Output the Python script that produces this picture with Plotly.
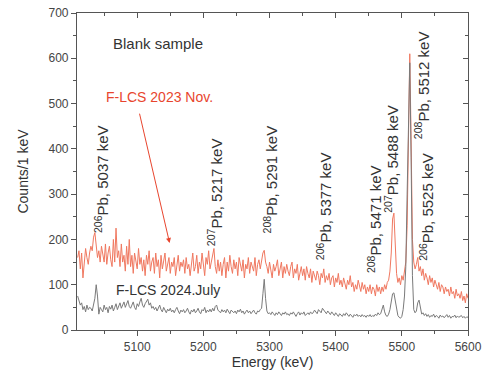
import plotly.graph_objects as go

# Energy bins (keV), 2 keV steps
energy = list(range(5010, 5601, 2))

# F-LCS 2023 Nov. (counts / 1 keV)
counts_2023 = [
    160, 175, 135, 170, 115, 150, 180, 160, 145, 170,
    185, 175, 205, 215, 190, 160, 175, 150, 185, 165,
    150, 190, 145, 170, 185, 155, 140, 200, 150, 225,
    160, 175, 140, 190, 150, 165, 130, 185, 145, 200,
    140, 165, 125, 170, 150, 135, 180, 145, 160, 130,
    155, 120, 165, 145, 175, 130, 150, 160, 125, 170,
    140, 155, 115, 165, 135, 150, 170, 130, 145, 160,
    125, 150, 140, 160, 120, 145, 165, 130, 150, 140,
    155, 125, 160, 135, 145, 120, 150, 170, 130, 140,
    165, 125, 150, 135, 170, 140, 120, 160, 145, 175,
    135, 150, 165, 180, 140, 125, 155, 130, 150, 120,
    145, 160, 115, 150, 130, 165, 140, 125, 155, 135,
    150, 120, 160, 140, 130, 155, 115, 145, 135, 160,
    125, 150, 140, 130, 160, 120, 145, 155, 135, 150,
    170, 176, 150, 140, 125, 150, 135, 115, 145, 130,
    140, 155, 120, 135, 150, 115, 140, 125, 145, 130,
    120, 140, 150, 115, 135, 125, 145, 110, 130, 140,
    120, 135, 110, 140, 125, 115, 135, 105, 130, 120,
    110, 130, 120, 100, 125, 115, 135, 105, 120, 110,
    125, 100, 115, 120, 95, 115, 105, 125, 100, 110,
    95, 115, 105, 90, 110, 100, 120, 95, 105, 85,
    100, 90, 110, 95, 85, 105, 90, 100, 80, 95,
    85, 100, 80, 95, 90, 75, 100, 85, 95, 80,
    95, 85, 100, 90, 105, 110, 130, 170, 245, 258,
    190, 125, 105, 115, 100, 120, 110, 135, 150, 230,
    480, 610, 420, 200, 150, 135, 145, 160, 130, 140,
    120, 135, 110, 125, 115, 100, 120, 105, 115, 95,
    110, 100, 90, 105, 85, 100, 95, 80, 95, 85,
    90, 75, 95, 80, 85, 70, 90, 75, 80, 70,
    85, 65, 75, 60, 80, 70,
]

# F-LCS 2024.July (counts / 1 keV)
counts_2024 = [
    75, 65, 55, 60, 45, 52, 40, 55, 45, 50,
    48, 42, 58, 70, 100, 75, 35, 50, 45, 40,
    55, 45, 50, 38, 52, 46, 55, 42, 50, 58,
    45, 52, 60, 48, 55, 62, 50, 58, 65, 52,
    48, 55, 62, 50, 45, 58, 52, 62, 70, 55,
    50, 58, 62, 68, 55, 60, 48, 52, 45, 50,
    42, 48, 55, 45, 40, 50, 44, 38, 46, 42,
    48, 40, 44, 38, 45, 50, 42, 36, 44, 40,
    45, 38, 42, 48, 40, 35, 44, 40, 46, 38,
    42, 48, 40, 36, 45, 42, 50, 38, 44, 40,
    46, 40, 48, 42, 52, 55, 44, 40, 38, 45,
    40, 44, 38, 46, 42, 36, 44, 40, 38, 42,
    36, 44, 40, 46, 38, 42, 35, 40, 44, 38,
    42, 36, 40, 44, 38, 35, 42, 40, 45, 48,
    80, 112, 70, 42, 36, 38, 34, 40, 36, 32,
    38, 34, 40, 36, 32, 38, 35, 40, 34, 36,
    32, 38, 35, 40, 34, 30, 36, 40, 33, 38,
    35, 40, 32, 36, 38, 34, 40, 36, 38, 44,
    40, 36, 45, 42, 38, 48, 44, 40, 36, 42,
    38, 34, 40, 36, 32, 38, 35, 30, 36, 33,
    30, 36, 32, 38, 34, 30, 35, 32, 28, 34,
    31, 35, 30, 33, 29, 34, 30, 32, 28, 33,
    30, 34, 29, 32, 30, 35, 32, 38, 34, 36,
    48, 55, 40, 32, 30, 35, 45, 60, 80, 82,
    65, 45, 32, 28, 26, 30, 45, 75, 140, 300,
    480, 590, 380, 120, 45, 38, 42, 60, 66, 45,
    35, 38, 32, 36, 30, 34, 28, 32, 30, 35,
    28, 32, 30, 26, 33, 29, 31, 27, 30, 34,
    28, 32, 26, 30, 29, 33, 27, 31, 28, 30,
    32, 27, 30, 26, 29, 28,
]

# Peak labels
peak_labels = [
    "<sup>206</sup>Pb, 5037 keV", "<sup>207</sup>Pb, 5217 keV",
    "<sup>208</sup>Pb, 5291 keV", "<sup>206</sup>Pb, 5377 keV",
    "<sup>208</sup>Pb, 5471 keV", "<sup>207</sup>Pb, 5488 keV",
    "<sup>208</sup>Pb, 5512 keV", "<sup>206</sup>Pb, 5525 keV",
]
label_x = [5045, 5218, 5301, 5382, 5458, 5485, 5530, 5538]
label_y = [333, 305, 333, 273, 245, 378, 540, 272]

RED = "#f07860"
GRAY = "#7a7a7a"
TXT = "#333333"
FONT = "Liberation Sans, Arial, sans-serif"

fig = go.Figure()
fig.add_trace(go.Scatter(x=energy, y=counts_2023, mode="lines",
                         line=dict(color=RED, width=1), name="F-LCS 2023 Nov."))
fig.add_trace(go.Scatter(x=energy, y=counts_2024, mode="lines",
                         line=dict(color=GRAY, width=1), name="F-LCS 2024.July"))

annotations = []
for t, xx, yy in zip(peak_labels, label_x, label_y):
    annotations.append(dict(x=xx, y=yy, xref="x", yref="y", text=t, textangle=-90,
                            showarrow=False, font=dict(size=15, color=TXT, family=FONT),
                            xanchor="center", yanchor="middle"))
annotations += [
    dict(x=5131, y=633, xref="x", yref="y", text="Blank sample", showarrow=False,
         font=dict(size=15, color=TXT, family=FONT)),
    dict(x=5133, y=514, xref="x", yref="y", text="F-LCS 2023 Nov.", showarrow=False,
         font=dict(size=14, color="#e8452e", family=FONT)),
    dict(x=5146, y=88, xref="x", yref="y", text="F-LCS 2024.July", showarrow=False,
         font=dict(size=14, color=TXT, family=FONT)),
    dict(x=5149, y=192, xref="x", yref="y", ax=5103, ay=481, axref="x", ayref="y",
         text="", showarrow=True, arrowhead=2, arrowsize=1, arrowwidth=1,
         arrowcolor="#e8452e"),
]

axis_common = dict(showline=True, linecolor="#555", linewidth=1.2, showgrid=False,
                   zeroline=False, ticks="outside", ticklen=5, tickcolor="#555",
                   automargin=False,
                   tickfont=dict(size=12, color="#444", family=FONT))

fig.update_layout(
    template="none",
    width=485, height=381,
    margin=dict(l=77, r=17, t=13, b=51),
    paper_bgcolor="white", plot_bgcolor="white",
    showlegend=False,
    annotations=annotations,
    xaxis=dict(range=[5009, 5600], dtick=100, tick0=5000,
               minor=dict(dtick=50, ticklen=3, ticks="outside", tickcolor="#555"),
               title=dict(text="Energy (keV)", font=dict(size=14, color=TXT, family=FONT),
                          standoff=4),
               **axis_common),
    yaxis=dict(range=[0, 700], dtick=100,
               minor=dict(dtick=50, ticklen=3, ticks="outside", tickcolor="#555"),
               title=dict(text="Counts/1 keV", font=dict(size=14, color=TXT, family=FONT),
                          standoff=16),
               **axis_common),
    xaxis2=dict(range=[5009, 5600], overlaying="x", side="top", showline=True,
                linecolor="#555", linewidth=1.2, ticks="inside", ticklen=5,
                tickcolor="#555", dtick=100, tick0=5000, showticklabels=False,
                showgrid=False, zeroline=False, automargin=False,
                minor=dict(dtick=50, ticklen=3, ticks="inside", tickcolor="#555")),
    yaxis2=dict(range=[0, 700], overlaying="y", side="right", showline=True,
                linecolor="#555", linewidth=1.2, ticks="inside", ticklen=5,
                tickcolor="#555", dtick=100, showticklabels=False,
                showgrid=False, zeroline=False, automargin=False,
                minor=dict(dtick=50, ticklen=3, ticks="inside", tickcolor="#555")),
)
# invisible trace to make the mirrored axes render
fig.add_trace(go.Scatter(x=[energy[0]], y=[0], xaxis="x2", yaxis="y2", mode="markers",
                         marker=dict(opacity=0), hoverinfo="skip", showlegend=False))

fig.write_html("out.html")
